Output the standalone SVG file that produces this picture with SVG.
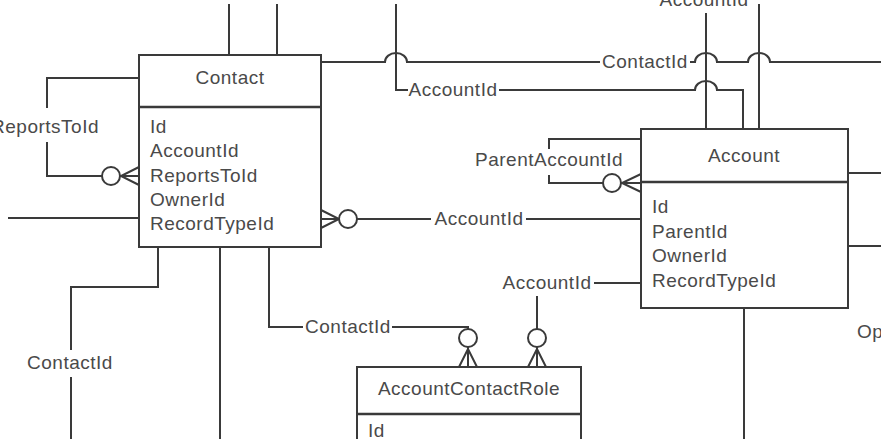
<svg xmlns="http://www.w3.org/2000/svg" width="881" height="439" viewBox="0 0 881 439">
<style>
.box{fill:#fff;stroke:#3a3a3a;stroke-width:2}
.div{stroke:#3a3a3a;stroke-width:2.4}
.ln{fill:none;stroke:#3a3a3a;stroke-width:2}
.ci{fill:#fff;stroke:#3a3a3a;stroke-width:2}
text{font-family:"Liberation Sans",Arial,sans-serif;font-size:19px;letter-spacing:0.5px;fill:#4a4a4a}
.t{text-anchor:middle}
.m{text-anchor:middle}
</style>
<rect width="881" height="439" fill="#fff"/>
<g id="connectors">
<path class="ln" d="M229,4 V55 M277,4 V55"/>
<path class="ln" d="M321,62 H385 a11,9 0 0 1 22,0 H600 M690,62 H695 a11,9 0 0 1 22,0 H748 a11,9 0 0 1 22,0 H881"/>
<path class="ln" d="M396,4 V90 H408 M499,90 H695 a11,9 0 0 1 22,0 H743 V129"/>
<path class="ln" d="M706,13 V129 M759,4 V129"/>
<path class="ln" d="M139,78 H47 V108 M47,142 V176 H102"/>
<circle class="ci" cx="111" cy="176" r="9"/>
<path class="ln" d="M139,167 L121,176 L139,185 M120,176 H139"/>
<path class="ln" d="M8,218 H139"/>
<path class="ln" d="M158,247 V287 H71 V350 M71,377 V439"/>
<path class="ln" d="M220,247 V439"/>
<path class="ln" d="M269,247 V327 H303 M392,327 H468 V329"/>
<circle class="ci" cx="468" cy="338" r="9"/>
<path class="ln" d="M459,367 L468,349 L477,367 M468,347 V367"/>
<path class="ln" d="M321,210 L339,219 L321,228 M321,219 H339"/>
<circle class="ci" cx="348" cy="219" r="9"/>
<path class="ln" d="M357,219 H431 M526,219 H641"/>
<path class="ln" d="M641,139 H549 V149 M549,175 V183 H603"/>
<circle class="ci" cx="612" cy="183" r="9"/>
<path class="ln" d="M641,174 L622,183 L641,192 M621,183 H641"/>
<path class="ln" d="M641,283 H594 M537,296 V329"/>
<circle class="ci" cx="537" cy="338" r="9"/>
<path class="ln" d="M528,367 L537,349 L546,367 M537,347 V367"/>
<path class="ln" d="M848,173 H881 M848,246 H881"/>
<path class="ln" d="M744,308 V439"/>
</g>
<g id="labels">
<text x="704" y="6" class="m">AccountId</text>
<text x="645" y="68" class="m">ContactId</text>
<text x="453" y="96" class="m">AccountId</text>
<text x="99" y="133" text-anchor="end">ReportsToId</text>
<text x="549" y="166" class="m">ParentAccountId</text>
<text x="479" y="225" class="m">AccountId</text>
<text x="547" y="289" class="m">AccountId</text>
<text x="348" y="333" class="m">ContactId</text>
<text x="70" y="369" class="m">ContactId</text>
<text x="857" y="338">Op</text>
</g>
<g id="node-contact">
<rect class="box" x="139" y="55" width="182" height="192"/>
<line class="div" x1="139" y1="107" x2="321" y2="107"/>
<text x="230" y="84" class="t">Contact</text>
<text x="150" y="133">Id</text>
<text x="150" y="157.3">AccountId</text>
<text x="150" y="181.6">ReportsToId</text>
<text x="150" y="205.9">OwnerId</text>
<text x="150" y="230.2">RecordTypeId</text>
</g>
<g id="node-account">
<rect class="box" x="641" y="129" width="207" height="179"/>
<line class="div" x1="641" y1="182" x2="848" y2="182"/>
<text x="744" y="162" class="t">Account</text>
<text x="652" y="213">Id</text>
<text x="652" y="237.5">ParentId</text>
<text x="652" y="262">OwnerId</text>
<text x="652" y="286.5">RecordTypeId</text>
</g>
<g id="node-accountcontactrole">
<path class="box" d="M357,445 V367 H581 V445"/>
<line class="div" x1="357" y1="414" x2="581" y2="414"/>
<text x="469" y="395" class="t">AccountContactRole</text>
<text x="368" y="437">Id</text>
</g>
</svg>
